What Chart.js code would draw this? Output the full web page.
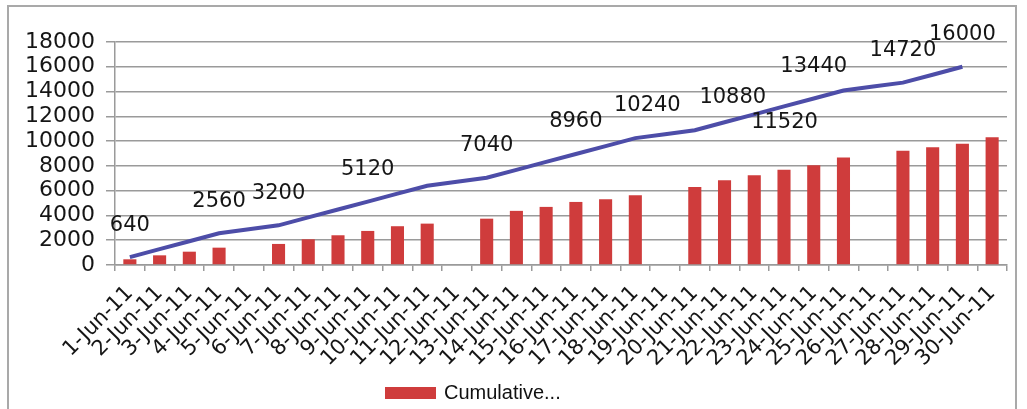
<!DOCTYPE html>
<html lang="en">
<head>
    <meta charset="UTF-8">
    <title>Cumulative June 2011</title>
    <style>
        body {
            margin: 0;
            padding: 0;
            background: #ffffff;
            overflow: hidden;
        }
        #wrap {
            position: relative;
            width: 1027px;
            height: 409px;
        }
        #frame {
            position: absolute;
            left: 7px;
            top: 5px;
            width: 1010px;
            height: 420px;
            border: 2px solid #a9a9a9;
            box-sizing: border-box;
        }
        #chart {
            position: absolute;
            left: 0;
            top: 0;
        }
        #legend {
            position: absolute;
            left: 385px;
            top: 381px;
            font-family: "Liberation Sans", Arial, sans-serif;
            font-size: 20px;
            color: #111;
            display: flex;
            align-items: center;
        }
        #legend .box {
            width: 51px;
            height: 12px;
            background: #cf3c3c;
            margin-right: 8px;
        }
    </style>
</head>
<body>
    <div id="wrap">
        <div id="frame"></div>
        <canvas id="chart" width="1027" height="409"></canvas>
        <div id="legend"><span class="box"></span><span>Cumulative...</span></div>
    </div>

    <script src="https://cdn.jsdelivr.net/npm/chart.js"></script>
    <script>
        // dates on the x axis
        const days = [
            '1-Jun-11', '2-Jun-11', '3-Jun-11', '4-Jun-11', '5-Jun-11', '6-Jun-11',
            '7-Jun-11', '8-Jun-11', '9-Jun-11', '10-Jun-11', '11-Jun-11', '12-Jun-11',
            '13-Jun-11', '14-Jun-11', '15-Jun-11', '16-Jun-11', '17-Jun-11', '18-Jun-11',
            '19-Jun-11', '20-Jun-11', '21-Jun-11', '22-Jun-11', '23-Jun-11', '24-Jun-11',
            '25-Jun-11', '26-Jun-11', '27-Jun-11', '28-Jun-11', '29-Jun-11', '30-Jun-11'
        ];

        // red bars (Sundays empty)
        const cumulativeValues = [
            460, 780, 1075, 1400, null, 1700, 2075, 2400, 2750, 3130, 3340, null,
            3740, 4370, 4690, 5090, 5310, 5630, null, 6300, 6850, 7250, 7680, 8060,
            8680, null, 9220, 9510, 9780, 10320
        ];

        // blue line
        const targetValues = [
            640, 1280, 1920, 2560, 2880, 3200, 3840, 4480, 5120, 5760, 6400, 6720,
            7040, 7680, 8320, 8960, 9600, 10240, 10560, 10880, 11520, 12160, 12800, 13440,
            14080, 14400, 14720, 15360, 16000, null
        ];

        // which line points carry a number
        const labelledPoints = [0, 3, 5, 8, 12, 15, 17, 19, 20, 23, 26, 28];

        const yMax = 18000;
        const yStep = 2000;

        const numberFont = '"DejaVu Sans", Verdana, sans-serif';

        const lineLabels = {
            id: 'lineLabels',
            afterDatasetsDraw(chart, args, opts) {
                const ctx = chart.ctx;
                const meta = chart.getDatasetMeta(0);
                ctx.save();
                ctx.font = '21px ' + numberFont;
                ctx.fillStyle = '#151515';
                ctx.textAlign = 'center';
                ctx.textBaseline = 'middle';
                labelledPoints.forEach(i => {
                    const pt = meta.data[i];
                    const shift = opts.shifts[i] || [0, -32];
                    ctx.fillText(String(targetValues[i]), pt.x + shift[0], pt.y + shift[1]);
                });
                ctx.restore();
            }
        };

        new Chart(document.getElementById('chart'), {
            type: 'bar',
            data: {
                labels: days,
                datasets: [{
                    type: 'line',
                    label: 'Target',
                    data: targetValues,
                    borderColor: '#4d4da8',
                    borderWidth: 4,
                    pointRadius: 0,
                    tension: 0,
                    fill: false,
                    order: 0
                }, {
                    label: 'Cumulative...',
                    data: cumulativeValues,
                    backgroundColor: '#cf3c3c',
                    barPercentage: 0.44,
                    categoryPercentage: 1,
                    order: 1
                }]
            },
            options: {
                responsive: false,
                animation: false,
                layout: {
                    padding: { left: 0, top: 42, right: 20, bottom: 0 }
                },
                plugins: {
                    legend: { display: false },
                    tooltip: { enabled: false },
                    lineLabels: {
                        shifts: { 17: [12, -33], 19: [38, -33], 20: [60, 0] }
                    }
                },
                scales: {
                    x: {
                        offset: true,
                        afterFit(scale) { scale.height = 144; },
                        grid: {
                            offset: true,
                            drawOnChartArea: false,
                            tickLength: 6,
                            color: '#9a9a9a',
                            lineWidth: 1.5
                        },
                        border: { display: true, color: '#9a9a9a', width: 1.5 },
                        ticks: {
                            autoSkip: false,
                            minRotation: 45,
                            maxRotation: 45,
                            padding: 10,
                            color: '#151515',
                            font: { family: numberFont, size: 21 }
                        }
                    },
                    y: {
                        min: 0,
                        max: yMax,
                        afterFit(scale) { scale.width = 115; },
                        grid: {
                            color: '#9a9a9a',
                            lineWidth: 1.5,
                            tickLength: 9
                        },
                        border: { display: true, color: '#9a9a9a', width: 1.5 },
                        ticks: {
                            stepSize: yStep,
                            autoSkip: false,
                            padding: 11,
                            color: '#151515',
                            font: { family: numberFont, size: 22 },
                            callback: v => String(v)
                        }
                    }
                }
            },
            plugins: [lineLabels]
        });
    </script>
</body>
</html>
